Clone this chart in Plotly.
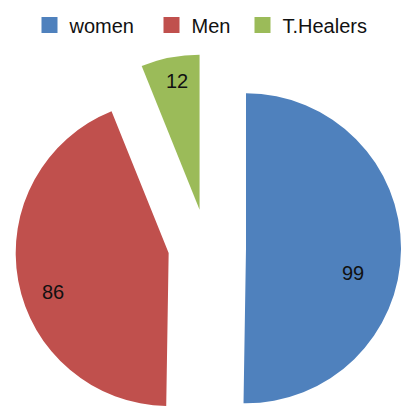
import math
import plotly.graph_objects as go

# Pie data
labels = ["women", "Men", "T.Healers"]
values = [99, 86, 12]
colors = ["#4F81BD", "#C0504D", "#9BBB59"]

W, H = 401, 406
FONT = "Arial, Liberation Sans, sans-serif"

# Unexploded pie centre / radius in pixels and how far each slice is pushed out
CX, CY = 207.0, 248.0
R = 155.0
EXPLODE = 39.0

# Where the value label sits inside each slice (angle clockwise from 12 o'clock,
# fraction of the radius)
label_angle = [102.9, 251.2, 350.0]
label_frac = [0.71, 0.80, 0.84]

total = sum(values)
fig = go.Figure()
annotations = []

start = 0.0
for i, (lab, val, col) in enumerate(zip(labels, values, colors)):
    span = val / total * 360.0
    mid = math.radians(start + span / 2.0)
    cx = CX + EXPLODE * math.sin(mid)
    cy = CY - EXPLODE * math.cos(mid)
    r = R
    over = cy + r - H
    if over > 0:  # keep the slice's circle box inside the figure
        cy -= over / 2.0
        r -= over / 2.0
    x0 = max(0.0, (cx - r) / W)
    x1 = min(1.0, (cx + r) / W)
    y0 = max(0.0, (H - cy - r) / H)
    y1 = min(1.0, (H - cy + r) / H)
    rot = ((start + 180.0) % 360.0) - 180.0
    fig.add_trace(go.Pie(
        values=[val, total - val],
        labels=[lab, " "],
        sort=False,
        direction="clockwise",
        rotation=rot,
        marker=dict(colors=[col, "rgba(0,0,0,0)"], line=dict(width=0)),
        textinfo="none",
        hoverinfo="label+value",
        showlegend=False,
        domain=dict(x=[x0, x1], y=[y0, y1]),
    ))
    a = math.radians(label_angle[i])
    lx = cx + label_frac[i] * r * math.sin(a)
    ly = cy - label_frac[i] * r * math.cos(a)
    annotations.append(dict(
        x=lx / W, y=1 - ly / H, xref="paper", yref="paper",
        text=str(val), showarrow=False,
        font=dict(family=FONT, size=20, color="#111111"),
        xanchor="center", yanchor="middle",
    ))
    start += span

# Legend entries, one legend per item
legend_x = [29.5, 151.5, 242.5]
legend_names = ["legend", "legend2", "legend3"]
for lab, col, lg in zip(labels, colors, legend_names):
    fig.add_trace(go.Scatter(
        x=[None], y=[None], mode="markers", name=lab,
        marker=dict(symbol="square", size=16, color=col),
        legend=lg, showlegend=True,
    ))

layout_legends = {}
for lg, lx in zip(legend_names, legend_x):
    layout_legends[lg] = dict(
        x=lx / W, y=1 - 25 / H, xanchor="left", yanchor="middle",
        orientation="h", bgcolor="rgba(0,0,0,0)", borderwidth=0,
        font=dict(family=FONT, size=20, color="#111111"),
    )

fig.update_layout(
    width=W, height=H,
    margin=dict(l=0, r=0, t=0, b=0),
    paper_bgcolor="white", plot_bgcolor="white",
    xaxis=dict(visible=False), yaxis=dict(visible=False),
    annotations=annotations,
    **layout_legends,
)

fig.write_html("out.html")
